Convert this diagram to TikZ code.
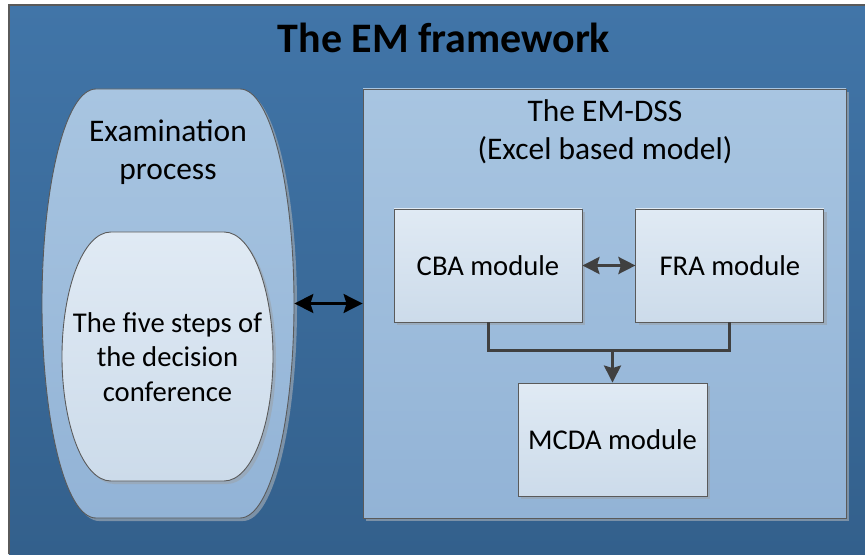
\documentclass[tikz,border=0pt]{standalone}
\usepackage{fontspec}
\setmainfont{Carlito}
\usepackage{xcolor}
\usetikzlibrary{arrows.meta,calc,positioning,shadows}

\definecolor{bgtop}{HTML}{4175A8}
\definecolor{bgbottom}{HTML}{33608C}
\definecolor{boxtop}{HTML}{A8C5E1}
\definecolor{boxbottom}{HTML}{92B3D6}
\definecolor{cardtop}{HTML}{E0EAF4}
\definecolor{cardbottom}{HTML}{CCDBEA}
\definecolor{edgegray}{HTML}{5A5A5A}
\definecolor{linkgray}{HTML}{404040}
\definecolor{shadowgray}{HTML}{9AA6B2}

\tikzset{
	bigtext/.style={font=\fontsize{17.9}{21.5}\selectfont, align=center},
	smalltext/.style={font=\fontsize{16.3}{19.8}\selectfont, align=center},
	softshadow/.style={drop shadow={shadow xshift=0.06cm, shadow yshift=-0.06cm, fill=shadowgray, opacity=0.7}},
	outerfill/.style={draw=edgegray, line width=0.5pt, top color=boxtop, bottom color=boxbottom, softshadow},
	innerfill/.style={draw=edgegray, line width=0.5pt, top color=cardtop, bottom color=cardbottom, softshadow},
	modulebox/.style={rectangle, innerfill, smalltext, minimum width=3.76cm, minimum height=2.26cm, inner sep=0pt},
	bigtip/.tip={Stealth[length=0.38cm, width=0.38cm, inset=0.06cm]},
	graytip/.tip={Stealth[length=0.34cm, width=0.34cm, inset=0.05cm]},
	blacklink/.style={line width=1.4pt},
	graylink/.style={draw=linkgray, line width=1.7pt},
}

\begin{document}
\begin{tikzpicture}
                        \useasboundingbox (0,0) rectangle (17.3,11.08);

                        % Background panel
                        \shade [top color=bgtop, bottom color=bgbottom] (0.18,0) rectangle (17.3,10.98);%
                        \draw [edgegray, line width=0.6pt] (0.18,0) -- (0.18,10.98) -- (17.3,10.98);%

                        % Marking title
                        \node [font=\fontsize{23.9}{28}\selectfont\bfseries] (title) at (8.88,10.32) {The EM framework};%

                        % Drawing examination process shape
                        \begin{scope}[shift={(3.36,5.01)}]
                        \path [outerfill] (-1.44,4.29) -- (1.44,4.29) .. controls (2.07,4.29) and (2.52,2.27) .. (2.52,0)
                              .. controls (2.52,-2.27) and (2.07,-4.29) .. (1.44,-4.29) -- (-1.44,-4.29)
                              .. controls (-2.07,-4.29) and (-2.52,-2.27) .. (-2.52,0)
                              .. controls (-2.52,2.27) and (-2.07,4.29) .. cycle;%
                        \end{scope}
                        \node [minimum width=5.04cm, minimum height=8.58cm, inner sep=0pt] (exam) at (3.36,5.01) {};%
                        \node [bigtext] (examtext) at (3.36,8.04) {Examination\\process};%

                        % Drawing decision conference shape
                        \begin{scope}[shift={(3.35,3.95)}]
                        \path [innerfill] (-1.13,2.49) -- (1.13,2.49) .. controls (1.70,2.49) and (2.11,1.32) .. (2.11,0)
                              .. controls (2.11,-1.32) and (1.70,-2.49) .. (1.13,-2.49) -- (-1.13,-2.49)
                              .. controls (-1.70,-2.49) and (-2.11,-1.32) .. (-2.11,0)
                              .. controls (-2.11,1.32) and (-1.70,2.49) .. cycle;%
                        \end{scope}
                        \node [smalltext] (steps) at (3.35,3.94) {The five steps of\\the decision\\conference};%

                        % Drawing EM-DSS box
                        \node [rectangle, outerfill, minimum width=9.66cm, minimum height=8.58cm] (dss) at (12.09,5.01) {};%
                        \node [bigtext] (dsstext) at (12.1,8.44) {The EM-DSS\\(Excel based model)};%

                        % Marking modules
                        \node [modulebox] (cba) at (9.76,5.77) {CBA module};%
                        \node [modulebox, right=1.06cm of cba] (fra) {FRA module};%
                        \node [modulebox, minimum width=3.78cm] (mcda) at (12.25,2.29) {MCDA module};%
                        \coordinate [above=0.64cm of mcda.north] (joint);%

                        % Drawing links
                        \draw [blacklink, bigtip-bigtip] (exam.east) -- (dss.west);%
                        \draw [graylink, graytip-graytip] (cba.east) -- (fra.west);%
                        \draw [graylink] (cba.south) |- (fra.south |- joint) -- (fra.south);%
                        \draw [graylink, -graytip] (joint) -- (mcda.north);%
\end{tikzpicture}
\end{document}
